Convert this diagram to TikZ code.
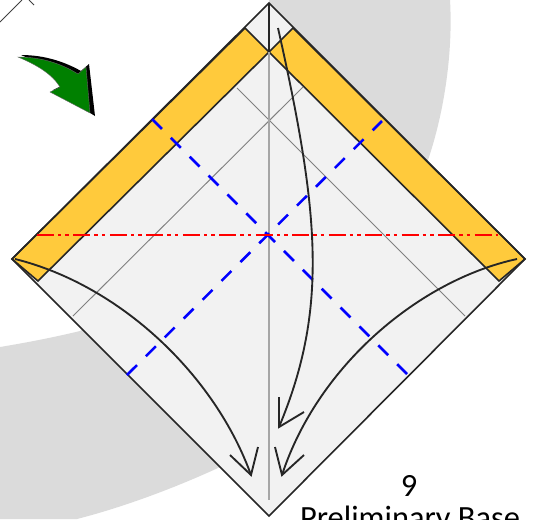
\documentclass[tikz,border=0pt]{standalone}
\usepackage{fontspec}
\setmainfont{Carlito}
\usetikzlibrary{positioning}
\definecolor{paper}{HTML}{F2F2F2}
\definecolor{band}{HTML}{FFCA3C}
\definecolor{backdrop}{HTML}{DBDBDB}
\definecolor{darkgreen}{HTML}{008000}
\tikzset{
  edgeline/.style={draw=black!85, line width=1.2pt},
  crease/.style={draw=black!50, line width=.7pt},
  valley/.style={draw=blue, line width=1.9pt, dash pattern=on 10.5pt off 9.5pt},
  mountain/.style={draw=red, line width=2pt, dash pattern=on 12.75pt off 3pt on 2.6pt off 3pt on 2.6pt off 3.4pt},
  movearrow/.style={draw=black!85, line width=1.4pt},
  caption/.style={font=\fontsize{24.3pt}{29pt}\selectfont, inner sep=0pt},
}
\begin{document}
\begin{tikzpicture}[x=.75pt,y=-.75pt]
\clip (0,0) rectangle (535,519);
\useasboundingbox (0,0) rectangle (535,519);

% Define the corners
\coordinate (top) at (269,3);
\coordinate (left) at (12,259);
\coordinate (right) at (525,259);
\coordinate (bottom) at (269,516);
\coordinate (mid) at (269,52);
\coordinate (low) at (269,500);
\coordinate (bandLa) at (245,28);
\coordinate (bandLb) at (38,281);
\coordinate (bandRa) at (293,28);
\coordinate (bandRb) at (499,281);

% Backdrop
\fill[backdrop] (269,0) -- (450,0) .. controls (453,50) and (445,110) .. (428,160)
  .. controls (380,300) and (300,420) .. (218,468)
  .. controls (170,490) and (120,508) .. (77,519)
  -- (0,519) -- (0,347) .. controls (30,342) and (55,337) .. (80,331) -- (269,200) -- cycle;

% Leftover lines in the corner
\coordinate (stubA) at (0,22);
\coordinate (stubB) at (22,0);
\coordinate (stubC) at (29,0);
\coordinate (stubD) at (34,5);
\draw[crease,draw=black!75] (stubA) -- (stubB);
\draw[crease,draw=black!75] (stubC) -- (stubD);

% Draw the paper
\path[fill=paper] (top) -- (right) -- (bottom) -- (left) -- cycle;
\path[fill=band,edgeline] (bandLa) -- (mid) -- (bandLb) -- (left) -- cycle;
\path[fill=band,edgeline] (bandRa) -- (mid) -- (bandRb) -- (right) -- cycle;

% Draw the thin creases
\coordinate (creaseA) at (237,88);
\coordinate (creaseB) at (465,316);
\coordinate (creaseC) at (73,316);
\coordinate (creaseD) at (303,87);
\draw[crease] (creaseA) -- (creaseB);
\draw[crease] (creaseC) -- (creaseD);
\draw[draw=black!35,line width=1pt] (mid) -- (low);

% Draw the outline
\path[edgeline] (top) -- (right) -- (bottom) -- (left) -- cycle;
\draw[draw=black!85,line width=1.9pt] (top) -- (mid);

% Draw the fold lines
\coordinate (valleyA) at (152,119);
\coordinate (valleyB) at (407,374);
\coordinate (valleyC) at (127,375);
\coordinate (valleyD) at (382,121);
\coordinate (mountA) at (37,235);
\coordinate (mountB) at (498,235);
\draw[valley] (valleyA) -- (valleyB);
\draw[valley] (valleyC) -- (valleyD);
\draw[mountain] (mountA) -- (mountB);

% Draw the curved arrows
\coordinate (tallS) at (278,28);
\coordinate (tallT) at (279,427);
\coordinate (sideLS) at (15,259);
\coordinate (sideLT) at (251,475);
\coordinate (sideRS) at (517,259);
\coordinate (sideRT) at (282,475);
\draw[movearrow] (tallS) .. controls (320,215) and (328,310) .. (tallT);
\draw[movearrow] (279,397) -- (tallT) -- (304,412);
\draw[movearrow] (sideLS) .. controls (120,285) and (215,375) .. (sideLT);
\draw[movearrow] (230,455) -- (sideLT) -- (258,447);
\draw[movearrow] (sideRS) .. controls (420,280) and (318,365) .. (sideRT);
\draw[movearrow] (275,447) -- (sideRT) -- (304,455);

% Turn over arrow
\fill[black] (21,55) .. controls (45,55) and (65,62) .. (81,71) -- (89,64) -- (95,116) -- (53,90) -- (63,85) .. controls (55,72) and (40,63) .. cycle;
\fill[darkgreen,draw=black!60,line width=.3pt] (18,57) .. controls (42,57) and (62,64) .. (78,74) -- (86,67) -- (90,113) -- (50,92) -- (60,87) .. controls (52,74) and (37,65) .. cycle;

% Caption
\node[caption] (stepnum) at (409,486) {9};
\node[caption,anchor=base] (stepname) at (410,528) {Preliminary Base};
\end{tikzpicture}
\end{document}
